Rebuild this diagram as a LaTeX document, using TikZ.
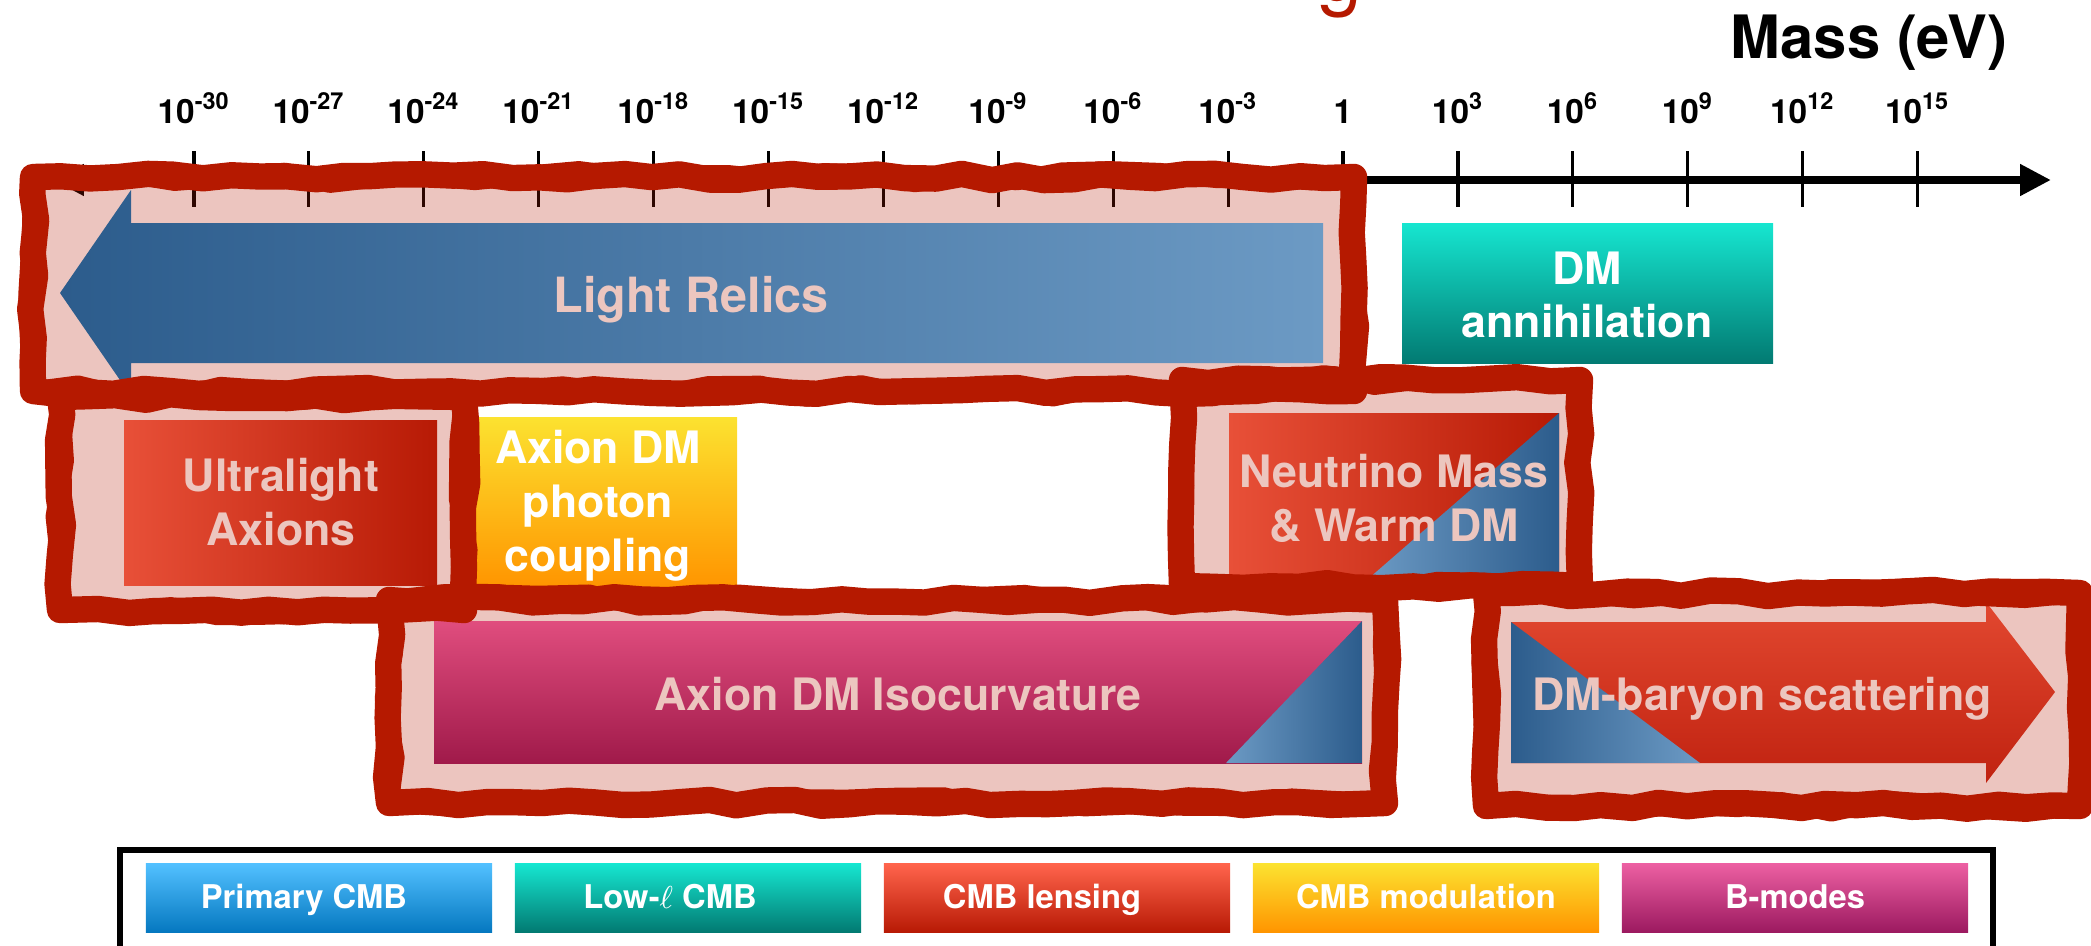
\documentclass[tikz,border=0pt]{standalone}
\usepackage{fontspec}
\setmainfont{TeX Gyre Heros}
\usetikzlibrary{arrows.meta,decorations.pathmorphing}

\definecolor{relicred}{RGB}{181,25,0}
\colorlet{relicpink}{relicred!25!white}
\definecolor{bluedark}{RGB}{44,92,140}
\definecolor{bluelight}{RGB}{108,154,196}
\definecolor{redL}{RGB}{232,80,56}
\definecolor{redR}{RGB}{183,26,5}
\definecolor{arrowTop}{RGB}{226,72,48}
\definecolor{arrowBot}{RGB}{192,34,16}
\definecolor{isoTop}{RGB}{224,77,126}
\definecolor{isoBot}{RGB}{160,26,74}
\definecolor{primTop}{RGB}{82,192,255}
\definecolor{primBot}{RGB}{5,120,192}
\definecolor{tealTop}{RGB}{22,230,208}
\definecolor{tealBot}{RGB}{2,122,114}
\definecolor{lensTop}{RGB}{255,100,76}
\definecolor{lensBot}{RGB}{184,26,5}
\definecolor{modTop}{RGB}{252,226,48}
\definecolor{modBot}{RGB}{255,149,0}
\definecolor{bmodTop}{RGB}{236,95,162}
\definecolor{bmodBot}{RGB}{156,26,96}

\begin{document}
\begin{tikzpicture}[x=0.01cm, y=-0.01cm,
    lbl/.style={font=\fontsize{12.7}{15.3}\selectfont\bfseries, align=center, inner sep=0pt},
    pinklbl/.style={lbl, text=relicpink},
    whitelbl/.style={lbl, text=white},
    ticklbl/.style={font=\fontsize{9.5}{11}\selectfont\bfseries, inner sep=0pt, anchor=base},
    tickmark/.style={line width=0.9pt},
    brush/.style={draw=relicred, line width=7.5pt, line join=round, line cap=round,
      decorate, decoration={random steps, segment length=8pt, amplitude=0.9pt}},
    legbox/.style={minimum width=3.46cm, minimum height=0.68cm, inner sep=0pt},
    legtext/.style={text=white, inner sep=0pt, font=\fontsize{9.3}{11}\selectfont\bfseries, anchor=base}]
    \pgfmathsetseed{7}
    \useasboundingbox (0,0) rectangle (2091,945);

    % Title (cut off at the top)
    \node[text=relicred, font=\fontsize{23}{23}\selectfont, anchor=base, inner sep=0pt] (titleg) at (1340,0) {g};

    % Mass axis
    \coordinate (axL) at (53,180);
    \coordinate (axR) at (2051,180);
    \draw[line width=2.3pt, {Triangle[length=8.8pt,width=8.5pt]}-{Triangle[length=8.8pt,width=8.5pt]}] (axL) -- (axR);
    \foreach \i in {0,...,15} \draw[tickmark] ({194+114.9*\i},151) -- ({194+114.9*\i},207);
    \foreach \e [count=\i from 0] in {-30,-27,-24,-21,-18,-15,-12,-9,-6,-3,0,3,6,9,12,15}
        \node[ticklbl] (t\i) at ({194+114.9*\i},123) {\ifnum\e=0 1\else 10\textsuperscript{\e}\fi};
    \node[font=\fontsize{17}{20}\selectfont\bfseries, anchor=base east, inner sep=0pt] (mass) at (2008,58) {Mass (eV)};

    % Frame fills
    \foreach \xa/\ya/\xb/\yb in {33/177/1354/391, 60/397/464/610, 1182/380/1580/586, 389/600/1385/803, 1486/593/2080/806}
        \fill[relicred, fill opacity=0.25] (\xa,\ya) rectangle (\xb,\yb);

    % Light Relics arrow
    \shade[left color=bluedark, right color=bluelight] (131,223) -- (1323,223) -- (1323,363) -- (131,363)
        -- (131,396) -- (60,293) -- (131,190) -- cycle;
    % DM annihilation
    \shade[top color=tealTop, bottom color=tealBot] (1402,223) rectangle (1773,363);
    % Ultralight Axions
    \shade[left color=redL, right color=redR] (124,420) rectangle (437,585);
    % Axion DM photon coupling
    \shade[top color=modTop, bottom color=modBot] (474,417) rectangle (737,587);
    % Neutrino Mass
    \shade[left color=redL, right color=redR] (1229,413) rectangle (1559,579);
    \shade[left color=bluelight, right color=bluedark] (1559,413) -- (1368,579) -- (1559,579) -- cycle;
    % Axion DM Isocurvature
    \shade[top color=isoTop, bottom color=isoBot] (434,621) rectangle (1362,763);
    \shade[left color=bluelight, right color=bluedark] (1362,621) -- (1226,763) -- (1362,763) -- cycle;
    % DM-baryon scattering arrow
    \shade[top color=arrowTop, bottom color=arrowBot] (1511,622) -- (1986,622) -- (1986,602) -- (2055,692)
        -- (1986,783) -- (1986,763) -- (1511,763) -- cycle;
    \shade[left color=bluedark, right color=bluelight] (1511,622) -- (1700,763) -- (1511,763) -- cycle;

    % Hand drawn frames
    \foreach \xa/\ya/\xb/\yb in {33/177/1354/391, 60/397/464/610, 1182/380/1580/586, 389/600/1385/803, 1486/593/2080/806} {
        \draw[brush] (\xa,\ya) -- (\xb,\ya) -- (\xb,\yb) -- (\xa,\yb) -- cycle;
        \draw[brush, line width=5.5pt, decoration={random steps, segment length=14pt, amplitude=1.8pt}]
            (\xa,\ya) -- (\xb,\ya) -- (\xb,\yb) -- (\xa,\yb) -- cycle;
    }

    % Labels
    \node[pinklbl, font=\fontsize{13.8}{16}\selectfont\bfseries, anchor=base] (relics) at (691,312) {Light Relics};
    \node[whitelbl] (dmann) at (1587,295) {DM\\annihilation};
    \node[pinklbl] (ula) at (281,502) {Ultralight\\Axions};
    \node[whitelbl] (photon) at (598,506) {Axion DM\\photon\\coupling};
    \node[pinklbl] (numass) at (1394,498) {Neutrino Mass\\\& Warm DM};
    \node[pinklbl, anchor=base] (iso) at (898,710) {Axion DM Isocurvature};
    \node[pinklbl, anchor=base] (dmb) at (1762,710) {DM-baryon scattering};

    % Legend
    \draw[line width=1.5pt] (120,850) rectangle (1993,1000);
    \foreach \name/\col/\dx [count=\i from 0] in {Primary CMB/prim/-15, Low-$\ell$ CMB/teal/-18,
            CMB lensing/lens/-15, CMB modulation/mod/0, B-modes/bmod/0} {
        \node[legbox, top color=\col Top, bottom color=\col Bot] (leg\i) at ({319+369*\i},898) {};
        \node[legtext] (legtxt\i) at ({319+369*\i+\dx},908) {\name};
    }
\end{tikzpicture}
\end{document}
